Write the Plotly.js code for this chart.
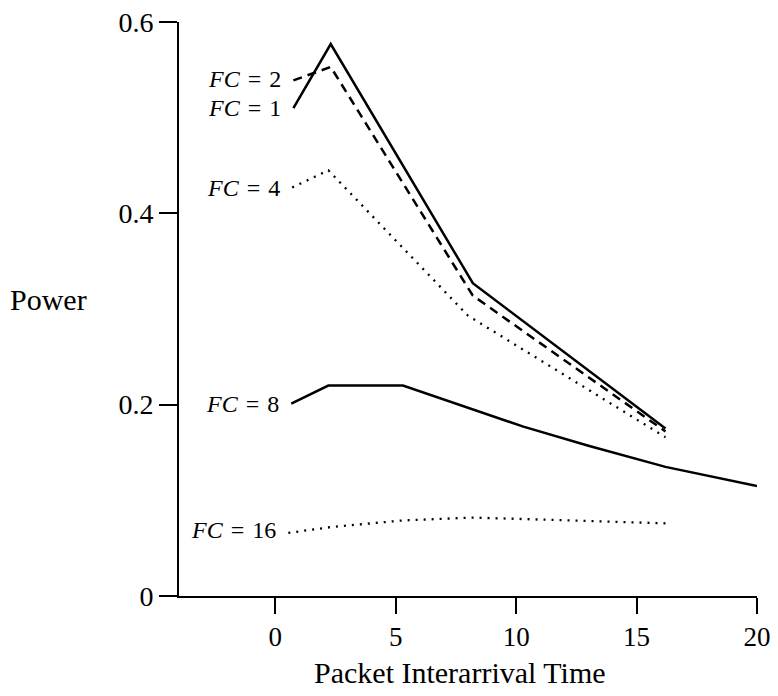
<!DOCTYPE html>
<html>
<head>
<meta charset="utf-8">
<script src="https://cdn.plot.ly/plotly-3.0.1.min.js"></script>
<style>html,body{margin:0;padding:0;background:#fff;}#chart{width:778px;height:696px;}</style>
</head>
<body>
<div id="chart"></div>
<script>
// Packet interarrival time (x) vs power (y), one series per FC value
const fc1X = [0.75, 2.3, 8.2, 16.2];
const fc1Y = [0.51, 0.577, 0.327, 0.175];
const fc2X = [0.75, 2.3, 8.2, 16.2];
const fc2Y = [0.539, 0.553, 0.314, 0.172];
const fc4X = [0.7, 2.2, 8.0, 16.2];
const fc4Y = [0.427, 0.445, 0.293, 0.166];
const fc8X = [0.66, 2.2, 5.3, 8.2, 10.3, 13, 16.2, 20];
const fc8Y = [0.201, 0.22, 0.22, 0.195, 0.177, 0.157, 0.135, 0.115];
const fc16X = [0.54, 2.3, 5.3, 8.2, 16.2];
const fc16Y = [0.066, 0.072, 0.079, 0.082, 0.076];

const seriesLabels = ["FC = 1", "FC = 2", "FC = 4", "FC = 8", "FC = 16"];
const xTickVals = [0, 5, 10, 15, 20];
const yTickVals = [0, 0.2, 0.4, 0.6];
const yTickText = ["0", "0.2", "0.4", "0.6"];
const xTitle = "Packet Interarrival Time";
const yTitle = "Power";

const FONT = "'Liberation Serif', 'DejaVu Serif', serif";

const series = [
  {x: fc1X, y: fc1Y, dash: "solid", w: 2.5, label: seriesLabels[0], yshift: 0, xshift: -10},
  {x: fc2X, y: fc2Y, dash: "9px,6px", w: 2.5, label: seriesLabels[1], yshift: 1, xshift: -10},
  {x: fc4X, y: fc4Y, dash: "2px,6px", w: 2.3, label: seriesLabels[2], yshift: 0, xshift: -10},
  {x: fc8X, y: fc8Y, dash: "solid", w: 2.5, label: seriesLabels[3], yshift: 0, xshift: -10},
  {x: fc16X, y: fc16Y, dash: "2px,6px", w: 2.3, label: seriesLabels[4], yshift: 3, xshift: -10}
];

const traces = series.map(s => ({
  x: s.x, y: s.y, type: "scatter", mode: "lines",
  line: {color: "#000", width: s.w, dash: s.dash},
  hoverinfo: "skip", showlegend: false
}));

const annotations = series.map(s => {
  const parts = s.label.split(" = ");
  return {
    x: s.x[0], y: s.y[0], xref: "x", yref: "y",
    text: "<i>" + parts[0] + "</i>\u2004=\u2004" + parts[1],
    showarrow: false, xanchor: "right", yanchor: "middle",
    xshift: s.xshift, yshift: s.yshift,
    font: {family: FONT, size: 24, color: "#000"}
  };
});

annotations.push({
  x: 0, y: 0.516, xref: "paper", yref: "paper",
  text: yTitle, showarrow: false, xanchor: "center", yanchor: "middle",
  xshift: -131,
  font: {family: FONT, size: 30, color: "#000"}
});
annotations.push({
  x: 0.486, y: -0.134, xref: "paper", yref: "paper",
  text: xTitle, showarrow: false, xanchor: "center", yanchor: "middle",
  borderpad: 0,
  font: {family: FONT, size: 30, color: "#000"}
});

const layout = {
  width: 778, height: 696,
  margin: {l: 179, r: 21, t: 22, b: 100, pad: 0},
  paper_bgcolor: "#fff", plot_bgcolor: "#fff",
  showlegend: false,
  font: {family: FONT, color: "#000", size: 28},
  xaxis: {
    range: [-4, 20], tickvals: xTickVals, ticktext: xTickVals.map(String),
    showgrid: false, zeroline: false, showline: true, linecolor: "#000", linewidth: 2,
    ticks: "outside", ticklen: 16, tickwidth: 2, tickcolor: "#000",
    tickfont: {family: FONT, size: 27, color: "#000"}
  },
  yaxis: {
    range: [0, 0.6], tickvals: yTickVals, ticktext: yTickText,
    showgrid: false, zeroline: false, showline: true, linecolor: "#000", linewidth: 2,
    ticks: "outside", ticklen: 18, tickwidth: 2, tickcolor: "#000",
    tickfont: {family: FONT, size: 28, color: "#000"}
  },
  annotations: annotations
};

Plotly.newPlot("chart", traces, layout, {displayModeBar: false, staticPlot: true});
</script>
</body>
</html>
